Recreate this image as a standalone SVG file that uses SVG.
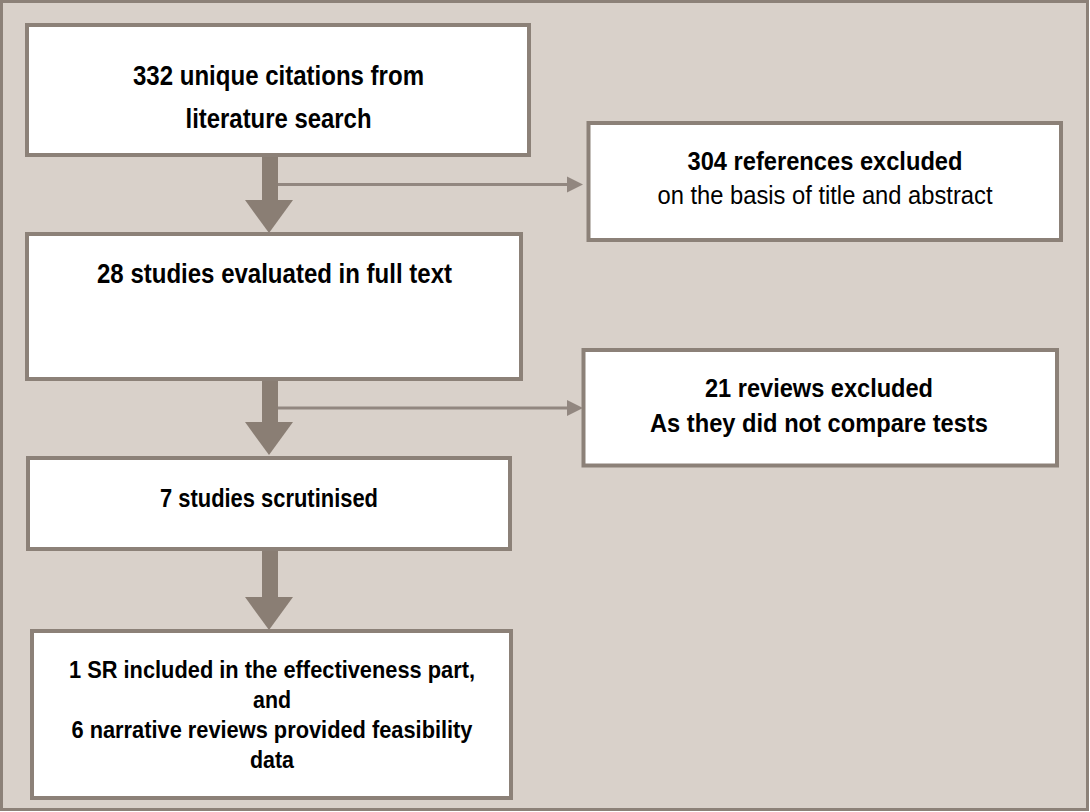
<svg xmlns="http://www.w3.org/2000/svg" width="1090" height="812" viewBox="0 0 1090 812">
<style>
.frame{fill:#d9d1ca;stroke:#8c8178;stroke-width:3}
.box{fill:#ffffff;stroke:#8c8178;stroke-width:4}
.t{font-family:"Liberation Sans Narrow","Liberation Sans",Arial,sans-serif;font-weight:bold;fill:#000;text-anchor:middle}
.r{font-weight:normal}
.thick{fill:#8a7e74}
.thin{stroke:#928780;stroke-width:3;fill:none}
.head{fill:#928780}
</style>
<rect class="frame" x="1.5" y="1.5" width="1086" height="808"/>
<g id="connectors">
  <rect class="thick" x="262" y="156" width="16" height="45"/>
  <polygon class="thick" points="245,200 293,200 269,233"/>
  <line class="thin" x1="278" y1="184.5" x2="569" y2="184.5"/>
  <polygon class="head" points="567,176.5 583,184.5 567,192.5"/>
  <rect class="thick" x="262" y="380" width="16" height="43"/>
  <polygon class="thick" points="245,422 293,422 269,455"/>
  <line class="thin" x1="278" y1="408" x2="569" y2="408"/>
  <polygon class="head" points="567,400 583,408 567,416"/>
  <rect class="thick" x="262" y="549" width="16" height="49"/>
  <polygon class="thick" points="245,597 293,597 269,630"/>
</g>
<g id="n1">
  <rect class="box" x="27" y="25" width="502" height="130"/>
  <text class="t" x="278.5" y="85" font-size="27" textLength="291" lengthAdjust="spacingAndGlyphs">332 unique citations from</text>
  <text class="t" x="278.5" y="128" font-size="27" textLength="186" lengthAdjust="spacingAndGlyphs">literature search</text>
</g>
<g id="n2">
  <rect class="box" x="588.5" y="123" width="472.5" height="117"/>
  <text class="t" x="825" y="170" font-size="25" textLength="275" lengthAdjust="spacingAndGlyphs">304 references excluded</text>
  <text class="t r" x="825" y="204" font-size="25" textLength="335" lengthAdjust="spacingAndGlyphs">on the basis of title and abstract</text>
</g>
<g id="n3">
  <rect class="box" x="27" y="234" width="494" height="145"/>
  <text class="t" x="274.5" y="283" font-size="27" textLength="355" lengthAdjust="spacingAndGlyphs">28 studies evaluated in full text</text>
</g>
<g id="n4">
  <rect class="box" x="583.5" y="350" width="473.5" height="115.5"/>
  <text class="t" x="819" y="397" font-size="25" textLength="228" lengthAdjust="spacingAndGlyphs">21 reviews excluded</text>
  <text class="t" x="819" y="432" font-size="25" textLength="338" lengthAdjust="spacingAndGlyphs">As they did not compare tests</text>
</g>
<g id="n5">
  <rect class="box" x="28" y="458" width="482" height="91"/>
  <text class="t" x="269" y="507" font-size="25" textLength="218" lengthAdjust="spacingAndGlyphs">7 studies scrutinised</text>
</g>
<g id="n6">
  <rect class="box" x="32" y="631" width="479" height="167"/>
  <text class="t" x="272" y="678" font-size="24" textLength="406" lengthAdjust="spacingAndGlyphs">1 SR included in the effectiveness part,</text>
  <text class="t" x="272" y="708" font-size="24" textLength="38" lengthAdjust="spacingAndGlyphs">and</text>
  <text class="t" x="272" y="738" font-size="24" textLength="401" lengthAdjust="spacingAndGlyphs">6 narrative reviews provided feasibility</text>
  <text class="t" x="272" y="768" font-size="24" textLength="44" lengthAdjust="spacingAndGlyphs">data</text>
</g>
</svg>
